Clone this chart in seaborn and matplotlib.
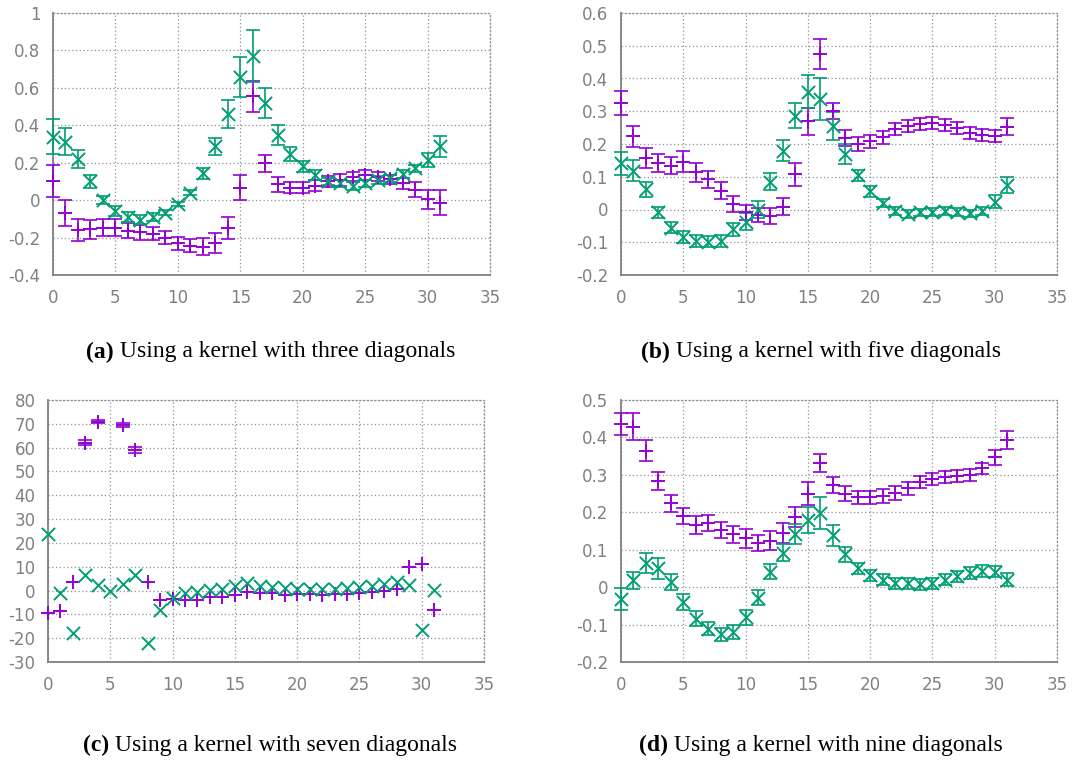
import numpy as np
import pandas as pd
import matplotlib
matplotlib.use('Agg')
import matplotlib.pyplot as plt
import seaborn as sns

# positions 0..31 along the x axis
xs = list(range(32))

# (a) three diagonals
a_purple = [0.103, -0.07, -0.16, -0.156, -0.147, -0.147, -0.163, -0.172, -0.18, -0.2, -0.23, -0.243,
            -0.248, -0.227, -0.15, 0.067, 0.554, 0.197, 0.085, 0.067, 0.067, 0.078, 0.1, 0.108,
            0.126, 0.135, 0.126, 0.112, 0.09, 0.055, 0.005, -0.013]
a_purple_err = [0.087, 0.07, 0.058, 0.049, 0.045, 0.045, 0.04, 0.04, 0.035, 0.035, 0.035, 0.035,
                0.047, 0.053, 0.06, 0.065, 0.085, 0.045, 0.04, 0.03, 0.03, 0.03, 0.03, 0.03,
                0.025, 0.027, 0.025, 0.025, 0.03, 0.04, 0.05, 0.065]
a_green = [0.34, 0.313, 0.22, 0.10, 0.0, -0.056, -0.09, -0.105, -0.09, -0.067, -0.02, 0.04,
           0.144, 0.287, 0.46, 0.66, 0.77, 0.518, 0.35, 0.247, 0.18, 0.135, 0.10, 0.09,
           0.076, 0.09, 0.108, 0.117, 0.14, 0.17, 0.215, 0.287]
a_green_err = [0.095, 0.07, 0.05, 0.034, 0.022, 0.027, 0.025, 0.025, 0.02, 0.015, 0.012, 0.012,
               0.03, 0.047, 0.073, 0.107, 0.137, 0.08, 0.053, 0.036, 0.03, 0.025, 0.02, 0.02,
               0.02, 0.02, 0.02, 0.02, 0.02, 0.02, 0.038, 0.058]

# (b) five diagonals
b_purple = [0.325, 0.223, 0.157, 0.141, 0.134, 0.146, 0.113, 0.092, 0.058, 0.016, -0.009, -0.017,
            -0.02, 0.009, 0.108, 0.269, 0.475, 0.301, 0.218, 0.2, 0.208, 0.22, 0.246, 0.255,
            0.262, 0.264, 0.257, 0.248, 0.233, 0.228, 0.225, 0.253]
b_purple_err = [0.036, 0.031, 0.03, 0.027, 0.027, 0.033, 0.03, 0.027, 0.027, 0.025, 0.022, 0.022,
                0.025, 0.027, 0.035, 0.04, 0.047, 0.025, 0.025, 0.02, 0.02, 0.02, 0.018, 0.018,
                0.018, 0.018, 0.018, 0.018, 0.018, 0.018, 0.018, 0.027]
b_green = [0.141, 0.119, 0.062, -0.009, -0.055, -0.083, -0.095, -0.098, -0.095, -0.06, -0.037, 0.0,
           0.085, 0.18, 0.286, 0.36, 0.337, 0.255, 0.17, 0.104, 0.055, 0.019, -0.005, -0.015,
           -0.009, -0.007, -0.005, -0.007, -0.012, -0.004, 0.024, 0.075]
b_green_err = [0.036, 0.033, 0.023, 0.018, 0.018, 0.018, 0.018, 0.018, 0.018, 0.02, 0.025, 0.025,
               0.025, 0.033, 0.038, 0.05, 0.064, 0.044, 0.03, 0.018, 0.016, 0.012, 0.012, 0.012,
               0.012, 0.012, 0.012, 0.012, 0.012, 0.012, 0.02, 0.025]

# (c) seven diagonals (purple point at 5 is not visible); bars are tiny here
c_purple = [-9.3, -8.6, 3.6, 62.1, 70.9, np.nan, 69.5, 59.0, 3.7, -4.0, -3.5, -4.0,
            -3.8, -2.8, -2.6, -1.9, -0.5, -1.2, -1.2, -1.8, -1.6, -1.6, -1.8, -1.6,
            -1.3, -1.0, -0.8, -0.2, 0.5, 9.9, 11.3, -8.3]
c_purple_err = [0, 0, 0, 0.9, 0.6, 0, 0.7, 1.4, 0, 0, 0, 0,
                0, 0, 0, 0, 0, 0, 0, 0, 0, 0, 0, 0,
                0, 0, 0, 0, 0, 0, 0, 0]
c_green = [23.7, -1.0, -17.8, 6.7, 2.5, -0.2, 2.9, 6.4, -22.0, -8.2, -3.3, -1.2,
           -0.5, 0.2, 0.5, 1.9, 3.3, 2.0, 1.5, 1.2, 0.8, 0.8, 0.8, 0.8,
           1.1, 1.5, 1.9, 2.6, 3.6, 2.2, -16.4, 0.1]
c_green_err = [0] * 32

# (d) nine diagonals
d_purple = [0.436, 0.429, 0.364, 0.284, 0.224, 0.19, 0.166, 0.172, 0.152, 0.141, 0.13, 0.118,
            0.124, 0.145, 0.188, 0.25, 0.332, 0.273, 0.249, 0.24, 0.24, 0.243, 0.252, 0.264,
            0.282, 0.29, 0.295, 0.297, 0.3, 0.317, 0.347, 0.393]
d_purple_err = [0.029, 0.036, 0.028, 0.024, 0.023, 0.022, 0.025, 0.022, 0.022, 0.022, 0.025, 0.022,
                0.025, 0.027, 0.027, 0.03, 0.025, 0.022, 0.02, 0.018, 0.018, 0.018, 0.018, 0.018,
                0.016, 0.016, 0.016, 0.016, 0.016, 0.016, 0.02, 0.025]
d_green = [-0.032, 0.018, 0.065, 0.05, 0.014, -0.04, -0.084, -0.111, -0.126, -0.12, -0.081, -0.028,
           0.041, 0.092, 0.141, 0.179, 0.198, 0.139, 0.088, 0.05, 0.032, 0.02, 0.01, 0.01,
           0.008, 0.01, 0.02, 0.029, 0.038, 0.043, 0.041, 0.02]
d_green_err = [0.029, 0.022, 0.027, 0.027, 0.022, 0.022, 0.02, 0.018, 0.018, 0.018, 0.02, 0.02,
               0.02, 0.022, 0.027, 0.034, 0.042, 0.028, 0.02, 0.015, 0.015, 0.015, 0.015, 0.015,
               0.015, 0.015, 0.015, 0.015, 0.015, 0.015, 0.015, 0.018]

captions = [('(a)', ' Using a kernel with three diagonals'),
            ('(b)', ' Using a kernel with five diagonals'),
            ('(c)', ' Using a kernel with seven diagonals'),
            ('(d)', ' Using a kernel with nine diagonals')]
y_limits = [(-0.4, 1.0), (-0.2, 0.6), (-30, 80), (-0.2, 0.5)]
y_steps = [0.2, 0.1, 10, 0.1]

purple = '#9400D3'
green = '#009E73'
gray = '#808080'

sns.set_theme(style='white')
plt.rcParams['font.family'] = ['DejaVu Sans']

fig = plt.figure(figsize=(10.76, 7.6), dpi=100)
# axes boxes in figure fraction (left, bottom, width, height)
boxes = [(53 / 1076, 1 - 275 / 760, 437 / 1076, 262 / 760),
         (621 / 1076, 1 - 275 / 760, 436 / 1076, 262 / 760),
         (48 / 1076, 1 - 662 / 760, 436 / 1076, 262 / 760),
         (621 / 1076, 1 - 662 / 760, 436 / 1076, 262 / 760)]

panels = [(a_purple, a_purple_err, a_green, a_green_err),
          (b_purple, b_purple_err, b_green, b_green_err),
          (c_purple, c_purple_err, c_green, c_green_err),
          (d_purple, d_purple_err, d_green, d_green_err)]


def bars(ax, df, col, ecol, color):
    # only draw bars that have a size
    sub = df[df[ecol] > 0]
    if len(sub):
        ax.errorbar(sub['x'], sub[col], yerr=sub[ecol], fmt='none', ecolor=color,
                    elinewidth=1.2, capsize=5, capthick=1.2, zorder=3)


for i, (p, pe, g, ge) in enumerate(panels):
    ax = fig.add_axes(boxes[i])
    df = pd.DataFrame({'x': xs, 'p': p, 'pe': pe, 'g': g, 'ge': ge})

    bars(ax, df, 'p', 'pe', purple)
    sns.scatterplot(data=df, x='x', y='p', marker='+', color=purple, s=110,
                    linewidth=1.4, ax=ax, zorder=4)
    bars(ax, df, 'g', 'ge', green)
    sns.scatterplot(data=df, x='x', y='g', marker='x', color=green, s=90,
                    linewidth=1.4, ax=ax, zorder=4)
    for art in ax.lines + ax.collections:
        art.set_clip_on(False)

    lo, hi = y_limits[i]
    ax.set_xlim(0, 35)
    ax.set_ylim(lo, hi)
    ax.set_xticks(np.arange(0, 36, 5))
    yt = np.round(np.arange(lo, hi + y_steps[i] / 2, y_steps[i]), 6)
    ax.set_yticks(yt)
    ax.set_yticklabels([f'{v:g}' for v in yt])
    ax.set_xlabel('')
    ax.set_ylabel('')

    ax.grid(True, linestyle=(0, (1, 2)), color='#909090', linewidth=0.9)
    ax.set_axisbelow(True)
    for side in ['left', 'bottom']:
        ax.spines[side].set_color(gray)
        ax.spines[side].set_linewidth(1.3)
    for side in ['top', 'right']:
        ax.spines[side].set_color('#909090')
        ax.spines[side].set_linestyle((0, (1, 2)))
        ax.spines[side].set_linewidth(0.9)
    ax.tick_params(axis='both', direction='in', length=5, width=1.2, color=gray,
                   labelcolor=gray, labelsize=12)
    ax.tick_params(axis='x', pad=10)
    ax.tick_params(axis='y', pad=9)

    # caption under each panel, bold label followed by plain text
    cx = 270 / 1076 if i % 2 == 0 else 820 / 1076
    cy = 1 - 352 / 760 if i < 2 else 1 - 745 / 760
    label, rest = captions[i]
    full = fig.text(cx, cy, label + rest, ha='center', va='center', alpha=0,
                    family='Liberation Serif', fontsize=17)
    fig.canvas.draw()
    bb = full.get_window_extent()
    inv = fig.transFigure.inverted()
    x0 = inv.transform((bb.x0, bb.y0))[0]
    lab = fig.text(x0, cy, label, ha='left', va='center', family='Liberation Serif',
                   fontsize=17, fontweight='bold', color='black')
    fig.canvas.draw()
    lb = lab.get_window_extent()
    x1 = inv.transform((lb.x1, lb.y0))[0]
    fig.text(x1, cy, rest, ha='left', va='center', family='Liberation Serif',
             fontsize=17, color='black')

fig.savefig('out.png', dpi=100)
